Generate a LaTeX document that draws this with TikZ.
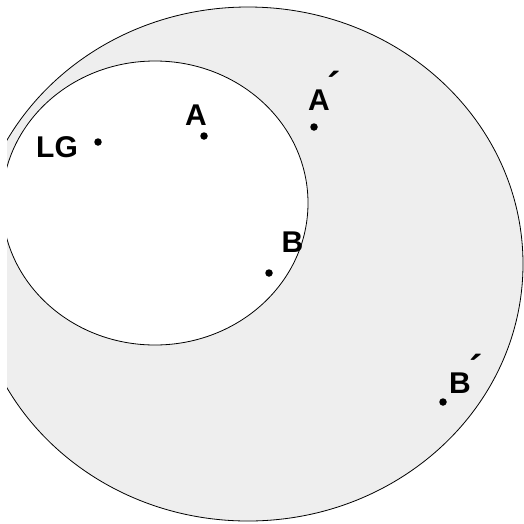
\documentclass[tikz,border=0pt]{standalone}
\usepackage{fontspec}
\setmainfont{Liberation Sans}
\begin{document}
\begin{tikzpicture}[x=1pt,y=-1pt,
  region/.style={draw=black,line width=0.8pt},
  pt/.style={circle,fill=black,inner sep=0pt,minimum size=7.5pt},
  lbl/.style={inner sep=0pt,anchor=base west,font=\fontsize{30}{30}\selectfont\bfseries}]
\newcommand\bigacute{\raisebox{10pt}{\fontsize{40}{40}\selectfont\bfseries ´}}
\useasboundingbox (0,0) rectangle (524,523);
\begin{scope}
\clip (7,0) rectangle (524,523);
\draw[region,fill={rgb,255:red,238;green,238;blue,238}] (248,264) ellipse [x radius=275, y radius=257];
\draw[region,fill=white] (155,203) ellipse [x radius=153, y radius=142];
\end{scope}
\node[pt] (lg) at (98,142) {};
\node[pt] (a) at (204,136) {};
\node[pt] (a2) at (314,127) {};
\node[pt] (b) at (269,273) {};
\node[pt] (b2) at (443,402) {};
\node[lbl] (lglbl) at (36,157) {LG};
\node[lbl] (albl) at (185,125) {A};
\node[lbl] (a2lbl) at (308,110) {A\kern-2pt\bigacute};
\node[lbl] (blbl) at (281.5,252) {B};
\node[lbl] (b2lbl) at (449,393) {B\kern-1pt\bigacute};
\end{tikzpicture}
\end{document}
